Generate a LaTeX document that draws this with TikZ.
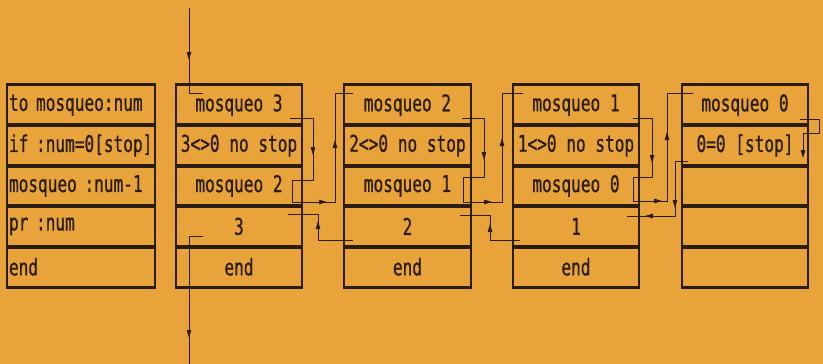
\documentclass[tikz,border=0pt]{standalone}
\usepackage{fontspec}
\newfontfamily\pix[FakeStretch=0.7,FakeBold=0.7]{DejaVu Sans Mono}
\usetikzlibrary{arrows.meta,decorations.markings}
\definecolor{paper}{HTML}{E8A33B}
\definecolor{ink}{HTML}{2A1C0E}
\begin{document}
\begin{tikzpicture}[x=1pt,y=-1pt,
  cell/.style={draw=ink, line width=1.4pt, minimum height=40.4pt, inner sep=0pt,
    font=\pix\fontsize{23}{23}\selectfont, text=ink},
  prog/.style={cell, minimum width=148pt, text width=144pt, inner xsep=2pt, align=left},
  frame/.style={cell, minimum width=126pt},
  rule/.style={draw=ink, line width=2.6pt},
  conn/.style={draw=ink, color=ink, line width=0.9pt},
  >={Triangle[length=8pt,width=4.5pt]},
  arrs/.style={postaction={decorate,decoration={markings,#1}}}]
\fill[paper] (0,0) rectangle (823,364);
\useasboundingbox (0,0) rectangle (823,364);
% program column
\node[prog] (p1) at (81,105.2) {to mosqueo:num};
\node[prog] (p2) at (81,145.6) {if :num=0[stop]};
\node[prog] (p3) at (81,186.0) {mosqueo :num-1};
\node[prog] (p4) at (81,226.4) {pr :num};
\node[prog] (p5) at (81,266.8) {end};
% frame 1
\node[frame] (a1) at (239,105.2) {mosqueo 3};
\node[frame] (a2) at (239,145.6) {3<>0 no stop};
\node[frame] (a3) at (239,186.0) {mosqueo 2};
\node[frame] (a4) at (239,226.4) {3};
\node[frame] (a5) at (239,266.8) {end};
% frame 2
\node[frame, minimum width=127pt] (b1) at (407.5,105.2) {mosqueo 2};
\node[frame, minimum width=127pt] (b2) at (407.5,145.6) {2<>0 no stop};
\node[frame, minimum width=127pt] (b3) at (407.5,186.0) {mosqueo 1};
\node[frame, minimum width=127pt] (b4) at (407.5,226.4) {2};
\node[frame, minimum width=127pt] (b5) at (407.5,266.8) {end};
% frame 3
\node[frame] (c1) at (576,105.2) {mosqueo 1};
\node[frame] (c2) at (576,145.6) {1<>0 no stop};
\node[frame] (c3) at (576,186.0) {mosqueo 0};
\node[frame] (c4) at (576,226.4) {1};
\node[frame] (c5) at (576,266.8) {end};
% frame 4
\node[frame] (d1) at (745,105.2) {mosqueo 0};
\node[frame] (d2) at (745,145.6) {0=0 [stop]};
\node[frame] (d3) at (745,186.0) {};
\node[frame] (d4) at (745,226.4) {};
\node[frame] (d5) at (745,266.8) {};
% heavier horizontal rules
\foreach \n in {p1,p2,p3,p4,p5,a1,a2,a3,a4,a5,b1,b2,b3,b4,b5,c1,c2,c3,c4,c5,d1,d2,d3,d4,d5}{
  \draw[rule] (\n.north west) -- (\n.north east);
  \draw[rule] (\n.south west) -- (\n.south east);
}
% connector end points
\coordinate (top) at (189,8);
\coordinate (a1in) at (203,93);
\coordinate (a4out) at (203,236);
\coordinate (bot) at (189,364);
\coordinate (a1call) at (290,118);
\coordinate (b1in) at (353,93);
\coordinate (b4ret) at (353,240);
\coordinate (a4back) at (288,214);
\coordinate (b1call) at (462,118);
\coordinate (c1in) at (523,93);
\coordinate (c4ret) at (520,240);
\coordinate (b4back) at (460,215);
\coordinate (c1call) at (633,118);
\coordinate (d1in) at (693,93);
\coordinate (d1call) at (800,119);
\coordinate (d2stop) at (803,158);
\coordinate (d2ret) at (688,161);
\coordinate (c4back) at (627,216);
% entry and exit
\draw[conn, arrs={mark=at position 52pt with {\arrow{>}}}] (top) -- (189,93) -- (a1in);
\draw[conn, arrs={mark=at position 116pt with {\arrow{>}}}] (a4out) -- (189,236) -- (bot);
% frame 1 -> frame 2
\draw[conn, arrs={mark=at position 60pt with {\arrow{>}}, mark=at position 163pt with {\arrow{>}}, mark=at position 233pt with {\arrow{>}}}]
  (a1call) -- (313,118) -- (313,180) -- (292,180) -- (292,202) -- (335,202) -- (335,93) -- (b1in);
\draw[conn, arrs={mark=at position 54pt with {\arrow{>}}}] (b4ret) -- (318,240) -- (318,214) -- (a4back);
% frame 2 -> frame 3
\draw[conn, arrs={mark=at position 64pt with {\arrow{>}}, mark=at position 156pt with {\arrow{>}}, mark=at position 230pt with {\arrow{>}}}]
  (b1call) -- (484,118) -- (484,177) -- (463,177) -- (463,202) -- (502,202) -- (502,93) -- (c1in);
\draw[conn, arrs={mark=at position 46pt with {\arrow{>}}}] (c4ret) -- (490,240) -- (490,215) -- (b4back);
% frame 3 -> frame 4
\draw[conn, arrs={mark=at position 64pt with {\arrow{>}}, mark=at position 150pt with {\arrow{>}}, mark=at position 224pt with {\arrow{>}}}]
  (c1call) -- (652,118) -- (652,177) -- (633,177) -- (633,201) -- (667,201) -- (667,93) -- (d1in);
% frame 4 stop and return
\draw[conn, ->] (d1call) -- (819,119) -- (819,133) -- (803,133) -- (d2stop);
\draw[conn, arrs={mark=at position 60pt with {\arrow{>}}, mark=at position 98pt with {\arrow{>}}}] (d2ret) -- (675,161) -- (675,216) -- (c4back);
\end{tikzpicture}
\end{document}
